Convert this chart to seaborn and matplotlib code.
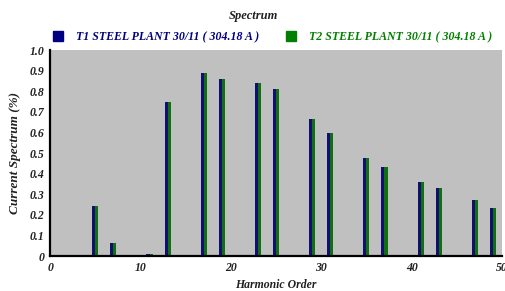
import numpy as np
import pandas as pd
import matplotlib
matplotlib.use('Agg')
import matplotlib.pyplot as plt
from matplotlib.ticker import MultipleLocator, FuncFormatter
from matplotlib.lines import Line2D
import seaborn as sns

# harmonic spectrum values
orders = [5, 7, 11, 13, 17, 19, 23, 25, 29, 31, 35, 37, 41, 43, 47, 49]
t1_values = [0.245, 0.065, 0.01, 0.75, 0.89, 0.86, 0.84, 0.81, 0.665, 0.595, 0.475, 0.43, 0.36, 0.33, 0.27, 0.235]
t2_values = [0.245, 0.065, 0.01, 0.75, 0.89, 0.86, 0.84, 0.81, 0.665, 0.595, 0.475, 0.43, 0.36, 0.33, 0.27, 0.235]
series_names = ['T1 STEEL PLANT 30/11 ( 304.18 A )', 'T2 STEEL PLANT 30/11 ( 304.18 A )']
series_colors = ['#000080', '#008000']

df = pd.concat([
    pd.DataFrame({'Order': orders, 'Value': t1_values, 'Series': series_names[0]}),
    pd.DataFrame({'Order': orders, 'Value': t2_values, 'Series': series_names[1]}),
])

sns.set_style('white')
plt.rcParams['font.family'] = ['Liberation Serif', 'DejaVu Serif']
font = dict(weight='bold', style='italic')

fig = plt.figure(figsize=(5.06, 2.91), dpi=100)
ax = fig.add_axes([0.099, 0.12, 0.893, 0.708])
ax.set_facecolor('#C0C0C0')

sns.barplot(data=df, x='Order', y='Value', hue='Series', native_scale=True,
            palette=series_colors, width=0.34, errorbar=None, ax=ax,
            linewidth=0, legend=False)

ax.set_xlim(0, 50)
ax.set_ylim(0, 1.0)
ax.xaxis.set_major_locator(MultipleLocator(10))
ax.xaxis.set_minor_locator(MultipleLocator(2))
ax.yaxis.set_major_locator(MultipleLocator(0.1))
ax.yaxis.set_minor_locator(MultipleLocator(0.02))
ax.yaxis.set_major_formatter(FuncFormatter(lambda v, p: '0' if abs(v) < 1e-9 else f'{v:.1f}'))
ax.xaxis.set_major_formatter(FuncFormatter(lambda v, p: f'{v:.0f}'))

for s in ['top', 'right']:
    ax.spines[s].set_visible(False)
for s in ['left', 'bottom']:
    ax.spines[s].set_color('black')
    ax.spines[s].set_linewidth(1.6)

ax.tick_params(axis='both', which='major', direction='out', length=3, width=1.2,
               labelsize=8.5, pad=1, colors='black')
ax.tick_params(axis='both', which='minor', direction='out', length=2, width=1, colors='black')
for lbl in ax.get_xticklabels() + ax.get_yticklabels():
    lbl.set_fontweight('bold')
    lbl.set_fontstyle('italic')
    lbl.set_color('#202020')

ax.set_xlabel('Harmonic Order', fontsize=8.5, labelpad=4, color='#202020', **font)
ax.set_ylabel('Current Spectrum (%)', fontsize=9.5, labelpad=6, color='#202020', **font)

fig.text(0.5, 0.945, 'Spectrum', ha='center', va='center', fontsize=9, color='#202020', **font)

handles = [Line2D([], [], marker='s', linestyle='none', markersize=7,
                  markerfacecolor=c, markeredgecolor=c) for c in series_colors]
leg = fig.legend(handles, series_names, loc='center', bbox_to_anchor=(0.532, 0.872),
                 ncol=2, frameon=False, handletextpad=0.5, columnspacing=1.6,
                 prop=dict(family=['Liberation Serif'], weight='bold', style='italic', size=8.6))
for txt, c in zip(leg.get_texts(), series_colors):
    txt.set_color(c)

fig.savefig('out.png', dpi=100)
